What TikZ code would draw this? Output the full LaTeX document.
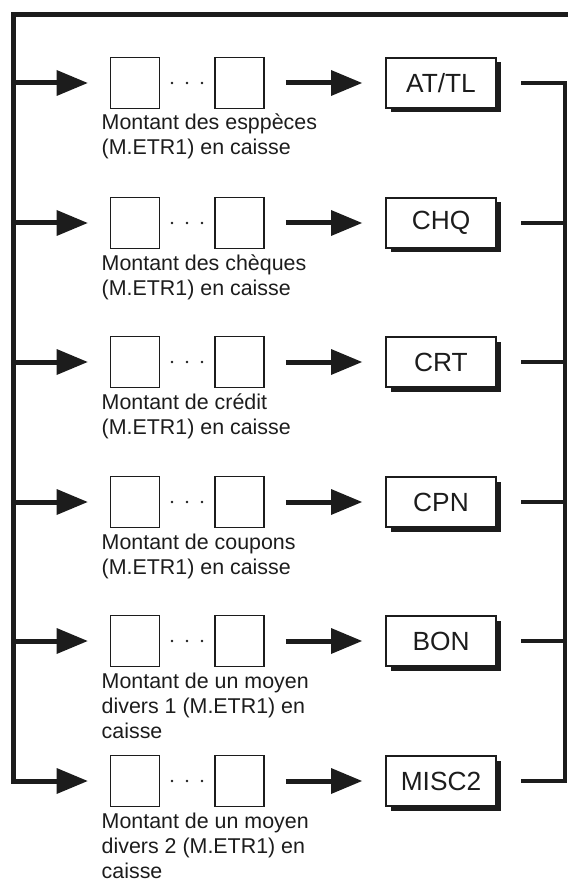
\documentclass[tikz,border=0pt]{standalone}
\usepackage{fontspec}
\setmainfont{Liberation Sans}
\usetikzlibrary{arrows.meta,shadows}
\definecolor{ink}{HTML}{1C1C1C}
\tikzset{
  flow/.style={draw=ink, line width=5pt,
    -{Triangle[length=31pt,width=26pt,line width=0pt]}},
  rail/.style={draw=ink, line width=4.5pt},
  digit/.style={draw=ink, line width=1.8pt, minimum width=49pt,
    minimum height=51pt, inner sep=0pt},
  keybox/.style={draw=ink, line width=2pt, fill=white, minimum width=110pt,
    minimum height=50pt, inner sep=0pt, text=ink,
    font=\fontsize{26.3}{30}\selectfont,
    drop shadow={shadow xshift=4.5pt, shadow yshift=-4.5pt, fill=ink, opacity=1}},
  caption/.style={anchor=base west, align=left, inner sep=0pt, text=ink,
    font=\fontsize{21.4}{25}\selectfont},
  dot/.style={fill=ink, circle, inner sep=0pt, minimum size=2.6pt}
}
\begin{document}
\begin{tikzpicture}[x=1pt, y=-1pt]
\useasboundingbox (0,0) rectangle (568,882);

% rows: y position, key label, number of caption lines, caption
% (the base anchor of a multi-line caption sits on its last line)
\foreach \i/\yy/\key/\n/\cap in {
  1/83/{AT/TL}/2/{Montant des esppèces\\(M.ETR1) en caisse},
  2/223/CHQ/2/{Montant des chèques\\(M.ETR1) en caisse},
  3/362/CRT/2/{Montant de crédit\\(M.ETR1) en caisse},
  4/502/CPN/2/{Montant de coupons\\(M.ETR1) en caisse},
  5/641/BON/3/{Montant de un moyen\\divers 1 (M.ETR1) en\\caisse},
  6/781/MISC2/3/{Montant de un moyen\\divers 2 (M.ETR1) en\\caisse}}{
  \node[digit] (a\i) at (135,\yy) {};
  \node[digit] (z\i) at (239.5,\yy) {};
  \node[dot] (d\i a) at (172,\yy) {};
  \node[dot] (d\i b) at (187,\yy) {};
  \node[dot] (d\i c) at (202,\yy) {};
  \node[keybox] (k\i) at (441,\yy) {\key};
  \node[caption] (c\i) at (101.5,\yy+47+25*\n-25) {\cap};
  \coordinate (L\i) at (13,\yy);
  \coordinate (R\i) at (565,\yy);
  \draw[flow] ([xshift=21pt]z\i.east) -- ([xshift=-23pt]k\i.west);
}

% left feed rail with its branches
\coordinate (TR) at (568,15);
\coordinate (TL) at (13,15);
\draw[flow] (TR) -- (TL) -- (L6) -- ([xshift=-22pt]a6.west);
\foreach \i in {1,...,5}{
  \draw[flow] (L\i) -- ([xshift=-22pt]a\i.west);
}

% right collecting rail
\draw[rail] ([xshift=24pt]k1.east) -- (R1) -- (R6) -- ([xshift=24pt]k6.east);
\foreach \i in {2,...,5}{
  \draw[rail] ([xshift=24pt]k\i.east) -- (R\i);
}
\end{tikzpicture}
\end{document}
